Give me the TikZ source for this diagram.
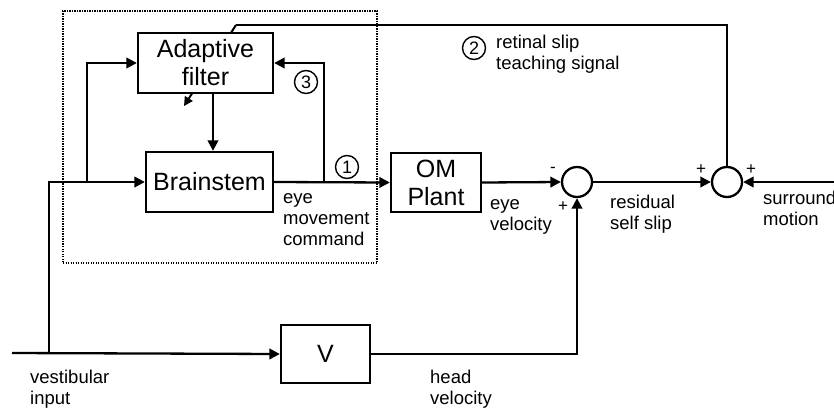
\documentclass[tikz,border=0pt]{standalone}
\usepackage{fontspec}
\setmainfont{Liberation Sans}
\usetikzlibrary{arrows.meta,backgrounds}
\begin{document}
\begin{tikzpicture}[x=1pt,y=-1pt,
  block/.style={draw, line width=2.3pt, fill=white, inner sep=0pt, align=center,
    font=\fontsize{25}{28}\selectfont},
  sumnode/.style={circle, draw, line width=2.3pt, fill=white, minimum size=30pt, inner sep=0pt},
  num/.style={circle, draw, line width=1.4pt, minimum size=23pt, inner sep=0pt,
    font=\fontsize{18}{18}\selectfont},
  sign/.style={inner sep=0pt, font=\fontsize{17}{17}\selectfont},
  lbl/.style={inner sep=0pt, anchor=north west, align=left, font=\fontsize{18.5}{21}\selectfont},
  wire/.style={line width=2.3pt},
  conn/.style={line width=2.3pt, -{Triangle[length=10.5pt,width=10.5pt]}},
  dotbox/.style={draw, line width=1.4pt, dash pattern=on 1.3pt off 1.2pt, minimum width=314pt, minimum height=252pt, inner sep=0pt}
]
\useasboundingbox (0,0) rectangle (834,407);
\clip (0,0) rectangle (834,407);

% group box
\node[dotbox] (grp) at (220,137) {};

% blocks
\node[block, minimum width=135pt, minimum height=60pt] (AF) at (205.5,63) {Adaptive\\filter};
\node[block, minimum width=127pt, minimum height=60pt] (BS) at (209.5,182) {Brainstem};
\node[block, minimum width=90pt, minimum height=59pt] (OM) at (436,182.5) {OM\\Plant};
\node[block, minimum width=89pt, minimum height=58pt] (V) at (325.5,354) {V};
\node[sumnode] (S1) at (577,182) {};
\node[sumnode] (S2) at (727,182) {};

% coordinates
\coordinate (in) at (12,353);
\coordinate (j1) at (49,353);
\coordinate (j2) at (49,182);
\coordinate (j3) at (87,182);
\coordinate (j4) at (324,182);
\coordinate (av) at (213,120);
\coordinate (sr) at (840,182);
\coordinate (tp) at (236,25);
\coordinate (dg) at (184,106);

% teaching signal (behind the adaptive filter)
\begin{scope}[on background layer]
  \draw[wire, line join=miter] (S2.north) |- (tp);
  \draw[line width=2pt, -{Triangle[length=9pt,width=9pt]}] (tp) -- (dg);
\end{scope}

% connectors
\draw[conn] (in) -- (V.west);
\draw[conn] (j1) -- (j2) -- (BS.west);
\draw[conn] (j3) |- (AF.west);
\draw[conn] (AF.south -| av) -- (BS.north -| av);
\draw[conn] (BS.east) -- (OM.west);
\draw[conn] (j4) |- (AF.east);
\draw[conn] (OM.east) -- (S1.west);
\draw[conn] (V.east) -| (S1.south);
\draw[conn] (S1.east) -- (S2.west);
\draw[conn] (sr) -- (S2.east);

% numbered markers
\node[num] (n1) at (347,167) {1};
\node[num] (n2) at (474,48) {2};
\node[num] (n3) at (306,82) {3};

% signs
\node[sign] (m1) at (553,170) {-};
\node[sign] (p1) at (563,207) {+};
\node[sign] (p2) at (701,170) {+};
\node[sign] (p3) at (751,170) {+};

% labels
\node[lbl] (emc) at (283,188.3) {\strut eye\\movement\\command};
\node[lbl] (rts) at (496,33.3) {\strut retinal slip\\teaching signal};
\node[lbl] (ev) at (490,194.3) {\strut eye\\velocity};
\node[lbl] (rss) at (610,193.3) {\strut residual\\self slip};
\node[lbl] (sm) at (763,189.3) {\strut surround\\motion};
\node[lbl] (vi) at (30,368.3) {\strut vestibular\\input};
\node[lbl] (hv) at (430,368.3) {\strut head\\velocity};
\end{tikzpicture}
\end{document}
